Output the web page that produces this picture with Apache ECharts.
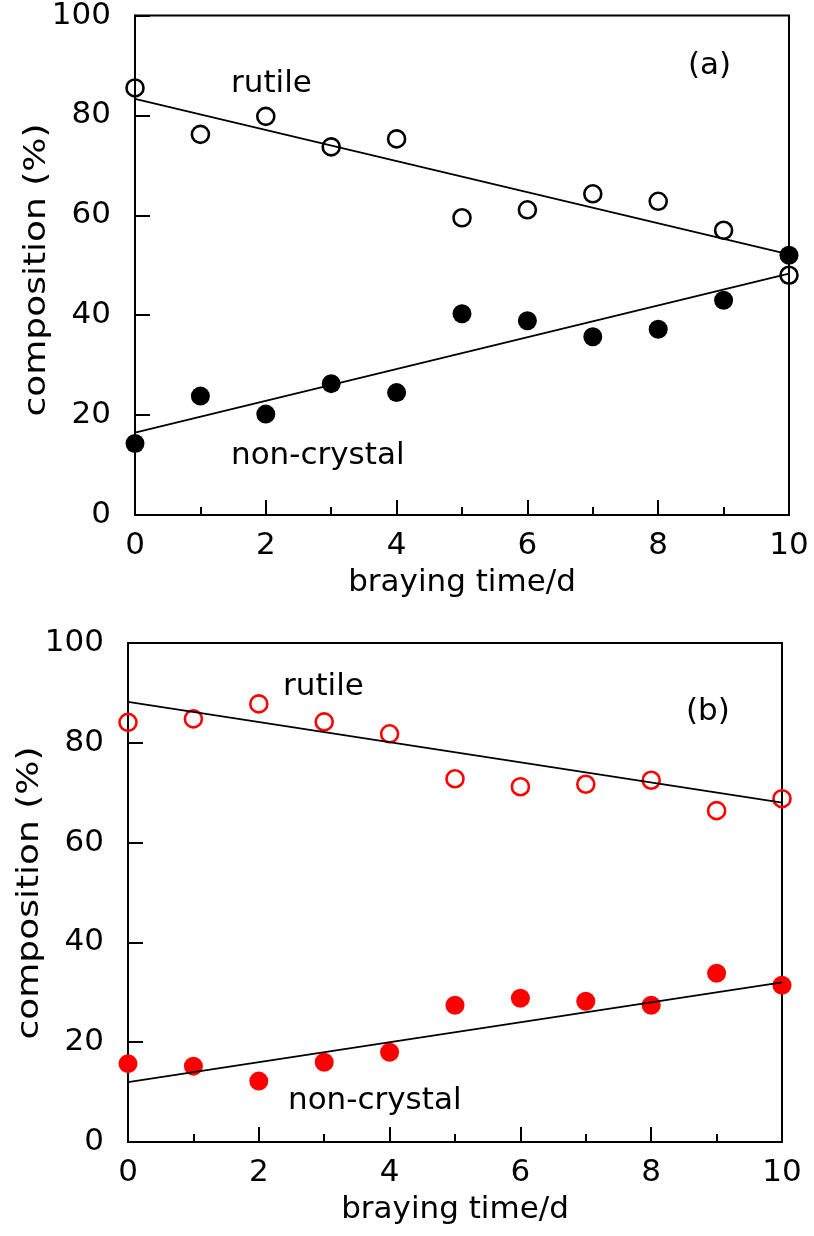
<!DOCTYPE html>
<html>
<head>
<meta charset="utf-8">
<script src="https://cdn.jsdelivr.net/npm/echarts@6/dist/echarts.min.js"></script>
<style>html,body{margin:0;padding:0;background:#fff}#c{width:814px;height:1236px}</style>
</head>
<body>
<div id="c"></div>
<script>
// braying time (days)
const days = [0,1,2,3,4,5,6,7,8,9,10];
// panel (a)
const rutileA = [85.5,76.2,79.8,73.7,75.3,59.5,61.1,64.3,62.8,57.0,48.0];
const nonCrystalA = [14.3,23.8,20.2,26.3,24.5,40.3,38.9,35.7,37.2,43.0,52.0];
const rutileFitA = [[0,83.3],[10,52.2]];
const nonCrystalFitA = [[0,16.5],[10,48.3]];
// panel (b)
const rutileB = [84.1,84.8,87.8,84.2,81.8,72.8,71.2,71.7,72.5,66.4,68.8];
const nonCrystalB = [15.7,15.2,12.2,16.0,18.0,27.4,28.8,28.2,27.4,33.8,31.4];
const rutileFitB = [[0,88.2],[10,68.0]];
const nonCrystalFitB = [[0,12.0],[10,32.0]];
// axis settings
const xTicks = {min:0,max:10,interval:2};
const yTicks = {min:0,max:100,interval:20};
const xTitle = 'braying time/d';
const yTitle = 'composition (%)';

const FONT = '"DejaVu Sans", sans-serif';
const FS = 31;
const pair = (xs, ys) => xs.map((x,i)=>[x, ys[i]]);

function xAxis(gi){
  return {
    gridIndex: gi, type:'value', min:xTicks.min, max:xTicks.max, interval:xTicks.interval,
    name: xTitle, nameLocation:'middle', nameGap: 52,
    nameTextStyle:{fontFamily:FONT,fontSize:FS,color:'#000',verticalAlign:'top'},
    axisLine:{show:true,onZero:false,lineStyle:{color:'#000',width:2}},
    axisTick:{show:true,inside:true,length:15,lineStyle:{color:'#000',width:2}},
    minorTick:{show:true,splitNumber:2,length:8,lineStyle:{color:'#000',width:2}},
    axisLabel:{fontFamily:FONT,fontSize:FS,color:'#000',margin:15},
    splitLine:{show:false}
  };
}
function yAxis(gi){
  return {
    gridIndex: gi, type:'value', min:yTicks.min, max:yTicks.max, interval:yTicks.interval,
    axisLine:{show:true,onZero:false,lineStyle:{color:'#000',width:2}},
    axisTick:{show:true,inside:true,length:15,lineStyle:{color:'#000',width:2}},
    minorTick:{show:false},
    axisLabel:{fontFamily:FONT,fontSize:FS,color:'#000',margin:24},
    splitLine:{show:false}
  };
}
function scat(gi, data, filled, color, size){
  return {
    type:'scatter', xAxisIndex:gi, yAxisIndex:gi, data, symbol:'circle', symbolSize:size, clip:false, z:2,
    itemStyle: filled ? {color:color, borderWidth:0, opacity:1} : {color:'rgba(255,255,255,0)', borderColor:color, borderWidth:2.6, opacity:1},
    emphasis:{disabled:true}, silent:true
  };
}
function fit(gi, data){
  return {type:'line', xAxisIndex:gi, yAxisIndex:gi, data, symbol:'none', z:3, silent:true,
    lineStyle:{color:'#000',width:1.8}, animation:false};
}
function txt(x,y,t){
  return {type:'text', x:x, y:y, style:{text:t, font:FS+'px '+FONT, fill:'#000', verticalAlign:'middle', align:'left'}, z:10};
}
function ytitle(x,y){
  return {type:'text', x:x, y:y, rotation:Math.PI/2, scaleX:1.16,
    style:{text:yTitle, font:FS+'px '+FONT, fill:'#000', align:'center', verticalAlign:'middle'}, z:10};
}

const chart = echarts.init(document.getElementById('c'), null, {renderer:'canvas'});
chart.setOption({
  animation:false,
  backgroundColor:'#fff',
  grid:[
    {left:135, top:15, width:654, height:500, show:true, borderColor:'#000', borderWidth:2, backgroundColor:'transparent'},
    {left:128, top:643, width:654, height:499, show:true, borderColor:'#000', borderWidth:2, backgroundColor:'transparent'}
  ],
  xAxis:[xAxis(0), xAxis(1)],
  yAxis:[yAxis(0), yAxis(1)],
  series:[
    scat(0, pair(days, rutileA), false, '#000', 17),
    scat(0, pair(days, nonCrystalA), true, '#000', 19),
    fit(0, rutileFitA), fit(0, nonCrystalFitA),
    scat(1, pair(days, rutileB), false, '#ff0000', 17),
    scat(1, pair(days, nonCrystalB), true, '#ff0000', 19),
    fit(1, rutileFitB), fit(1, nonCrystalFitB)
  ],
  graphic:[
    ytitle(37, 270),
    ytitle(30, 893),
    txt(231, 84, 'rutile'),
    txt(231, 456, 'non-crystal'),
    txt(688, 66, '(a)'),
    txt(283, 687, 'rutile'),
    txt(288, 1101, 'non-crystal'),
    txt(686, 712, '(b)')
  ]
});
</script>
</body>
</html>
